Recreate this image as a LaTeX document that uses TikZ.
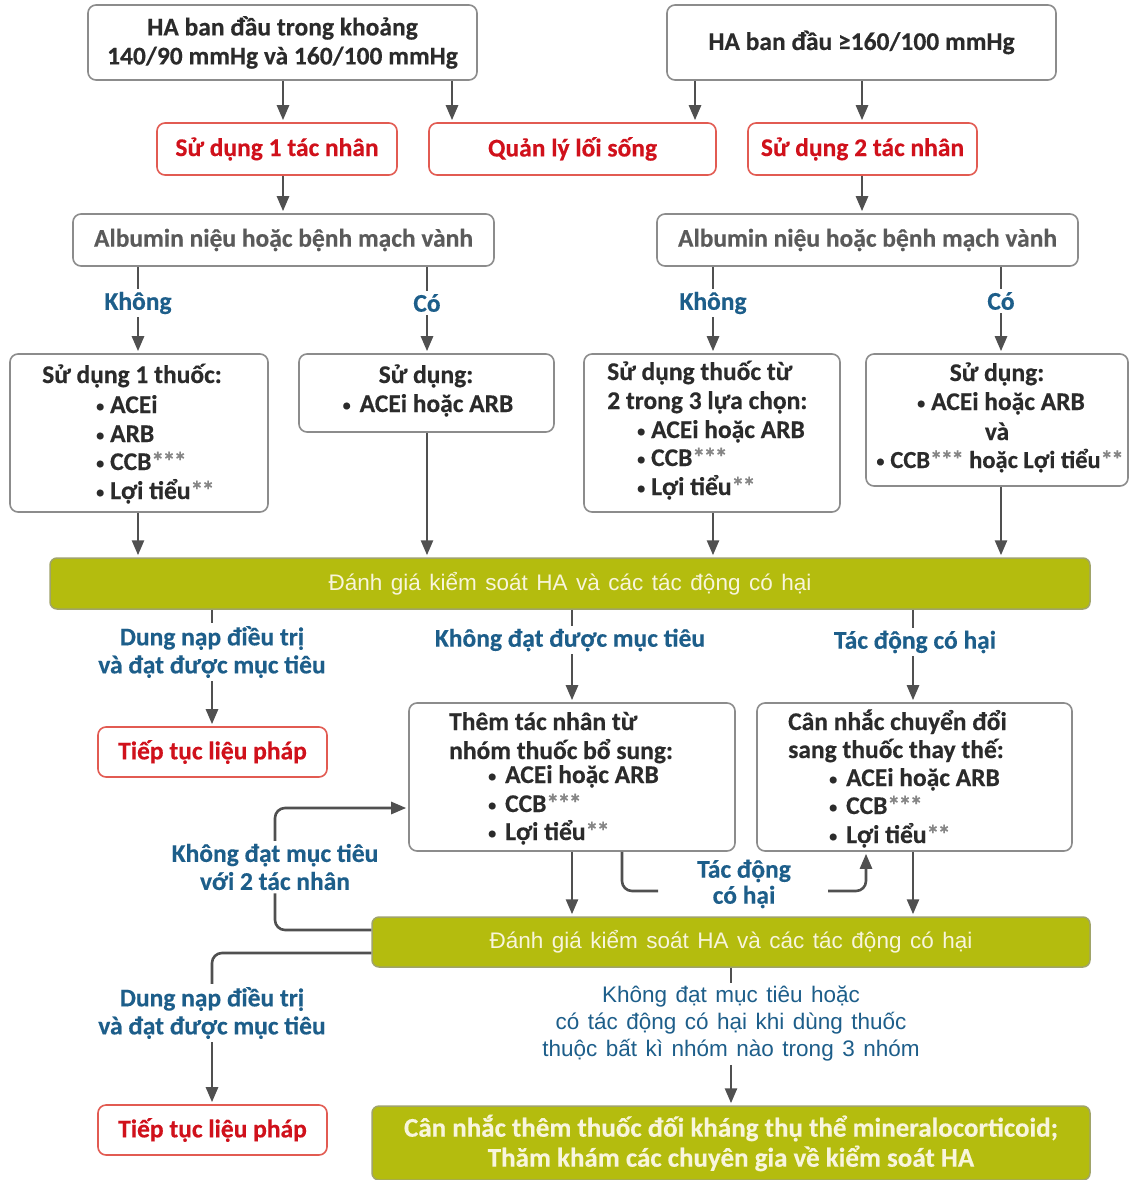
\documentclass[tikz,border=0pt]{standalone}
\usepackage{fontspec}
\setmainfont{Carlito}[BoldFeatures={FakeBold=0.35}]
\newfontfamily\arialf{Liberation Sans}
\usetikzlibrary{arrows.meta}
\definecolor{boxgray}{HTML}{8C8C8C}
\definecolor{txtdark}{HTML}{2B2B2B}
\definecolor{txtgray}{HTML}{5A5A5A}
\definecolor{redtxt}{HTML}{D0111B}
\definecolor{redline}{HTML}{E25B52}
\definecolor{bluetxt}{HTML}{1D5E8A}
\definecolor{barfill}{HTML}{B4BC0E}
\definecolor{barline}{HTML}{A0A46A}
\definecolor{bartxt}{HTML}{F8F5DC}
\definecolor{arrowc}{HTML}{505050}
\definecolor{astc}{HTML}{858585}
\newcommand\sthree{\textcolor{astc}{*\kern-1.5pt*\kern-1.5pt*}}
\newcommand\stwo{\textcolor{astc}{*\kern-1.5pt*}}
\newcommand\bul{\raisebox{1.5pt}{\fontsize{16}{16}\selectfont•}\kern6pt}
\newcommand\bigf{\bfseries\fontsize{25.5}{29}\selectfont}
\newcommand\barf{\arialf\fontsize{22.5}{26}\selectfont\spaceskip=8.5pt\relax}
\newcommand\kdf{\arialf\fontsize{22.5}{27}\selectfont\spaceskip=8.5pt\relax}
\tikzset{
  graybox/.style={draw=boxgray, line width=1.6pt, rounded corners=8pt, fill=white, inner sep=0pt, text=txtdark, font=\bigf, align=center},
  redbox/.style={draw=redline, line width=1.6pt, rounded corners=8pt, fill=white, inner sep=0pt, text=redtxt, font=\bigf, minimum height=52pt},
  bar/.style={fill=barfill, draw=barline, line width=1.5pt, rounded corners=7pt, inner sep=0pt, text=bartxt},
  lab/.style={text=bluetxt, font=\bfseries\fontsize{25.5}{28}\selectfont, align=center, inner sep=3pt},
  ln/.style={anchor=base west, inner sep=0pt, text=txtdark, font=\bigf},
  lnc/.style={anchor=base, inner sep=0pt, text=txtdark, font=\bigf},
  conn/.style={draw=arrowc, line width=2.6pt},
  arr/.style={conn, -{Triangle[length=15pt,width=12pt]}, shorten >=2pt},
}
\begin{document}
\begin{tikzpicture}[x=1pt,y=-1pt]
\useasboundingbox (0,0) rectangle (1130,1180);
\fill[white] (0,0) rectangle (1130,1180);

% top boxes
\node[graybox, minimum width=389pt, minimum height=75pt] (A) at (282.5,42.5) {HA ban đầu trong khoảng\\140/90 mmHg và 160/100 mmHg};
\node[graybox, minimum width=389pt, minimum height=75pt] (B) at (861.5,42.5) {HA ban đầu ≥160/100 mmHg};

\node[redbox, minimum width=240pt] (R1) at (277,149) {Sử dụng 1 tác nhân};
\node[redbox, minimum width=287pt] (R2) at (572.5,149) {Quản lý lối sống};
\node[redbox, minimum width=229pt] (R3) at (862.5,149) {Sử dụng 2 tác nhân};

\node[graybox, minimum width=421pt, minimum height=52pt, text=txtgray] (AlbL) at (283.5,240) {Albumin niệu hoặc bệnh mạch vành};
\node[graybox, minimum width=421pt, minimum height=52pt, text=txtgray] (AlbR) at (867.5,240) {Albumin niệu hoặc bệnh mạch vành};

\node[lab] (kh1) at (138,303) {Không};
\node[lab] (co1) at (427,303) {Có};
\node[lab] (kh2) at (713,303) {Không};
\node[lab] (co2) at (1001,301) {Có};

% second level boxes
\node[graybox, minimum width=258pt, minimum height=158pt] (L1) at (139,433) {};
\node[graybox, minimum width=255pt, minimum height=78pt] (L2) at (426.5,393) {};
\node[graybox, minimum width=256pt, minimum height=158pt] (Rb1) at (712,433) {};
\node[graybox, minimum width=262pt, minimum height=132pt] (Rb2) at (997,420) {};

\node[lnc] (l1h) at (132,383) {Sử dụng 1 thuốc:};
\node[ln] (l1a) at (96,413) {\bul ACEi};
\node[ln] (l1b) at (96,442) {\bul ARB};
\node[ln] (l1c) at (96,470) {\bul CCB\sthree};
\node[ln] (l1d) at (96,499) {\bul Lợi tiểu\stwo};

\node[lnc] (l2h) at (426,383) {Sử dụng:};
\node[lnc] (l2a) at (428,412) {\bul\kern3pt ACEi hoặc ARB};

\node[ln] (r1h) at (607,380) {Sử dụng thuốc từ};
\node[ln] (r1i) at (607,409) {2 trong 3 lựa chọn:};
\node[ln] (r1a) at (637,438) {\bul ACEi hoặc ARB};
\node[ln] (r1b) at (637,466) {\bul CCB\sthree};
\node[ln] (r1c) at (637,495) {\bul Lợi tiểu\stwo};

\node[lnc] (r2h) at (997,381) {Sử dụng:};
\node[lnc] (r2a) at (1001,410) {\bul ACEi hoặc ARB};
\node[lnc] (r2b) at (997,440) {và};
\node[lnc, font=\bfseries\fontsize{24.5}{29}\selectfont] (r2c) at (1000,468) {\bul CCB\sthree{} hoặc Lợi tiểu\stwo};

% bar 1
\node[bar, minimum width=1040pt, minimum height=51pt, font=\barf] (bar1) at (570,583.5) {Đánh giá kiểm soát HA và các tác động có hại};

\node[lab] (dn1) at (212,652) {Dung nạp điều trị\\và đạt được mục tiêu};
\node[redbox, minimum width=229pt, minimum height=50pt] (cont1) at (212.5,752) {Tiếp tục liệu pháp};
\node[lab] (kd1) at (570,640) {Không đạt được mục tiêu};
\node[lab] (td1) at (915,642) {Tác động có hại};

\node[graybox, minimum width=326pt, minimum height=148pt] (M1) at (572,777) {};
\node[graybox, minimum width=315pt, minimum height=148pt] (M2) at (914.5,777) {};

\node[ln] (m1h) at (449,730) {Thêm tác nhân từ};
\node[ln] (m1i) at (449,759) {nhóm thuốc bổ sung:};
\node[ln] (m1a) at (488,783) {\bul\kern3pt ACEi hoặc ARB};
\node[ln] (m1b) at (488,812) {\bul\kern3pt CCB\sthree};
\node[ln] (m1c) at (488,840) {\bul\kern3pt Lợi tiểu\stwo};

\node[ln] (m2h) at (788,730) {Cân nhắc chuyển đổi};
\node[ln] (m2i) at (788,758) {sang thuốc thay thế:};
\node[ln] (m2a) at (829,786) {\bul\kern3pt ACEi hoặc ARB};
\node[ln] (m2b) at (829,814) {\bul\kern3pt CCB\sthree};
\node[ln] (m2c) at (829,843) {\bul\kern3pt Lợi tiểu\stwo};

\node[lab, font=\bfseries\fontsize{25.5}{26}\selectfont] (td2) at (744,884) {Tác động\\có hại};
\node[lab] (nk) at (275,867) {Không đạt mục tiêu\\với 2 tác nhân};

% bar 2
\node[bar, minimum width=718pt, minimum height=50pt, font=\barf] (bar2) at (731,942) {Đánh giá kiểm soát HA và các tác động có hại};

\node[lab] (dn2) at (212,1013) {Dung nạp điều trị\\và đạt được mục tiêu};
\node[redbox, minimum width=229pt, minimum height=50pt] (cont2) at (212.5,1130) {Tiếp tục liệu pháp};
\node[lab, font=\kdf] (kd3) at (731,1024) {Không đạt mục tiêu hoặc\\có tác động có hại khi dùng thuốc\\thuộc bất kì nhóm nào trong 3 nhóm};

\node[bar, minimum width=718pt, minimum height=74pt, font=\bfseries\fontsize{27}{30}\selectfont, align=center] (fin) at (731,1143) {Cân nhắc thêm thuốc đối kháng thụ thể mineralocorticoid;\\Thăm khám các chuyên gia về kiểm soát HA};

\coordinate (tdl) at (658,891);
\coordinate (tdr) at (828,891);

% connectors
\draw[arr] (A.south -| 283,0) -- (R1.north -| 283,0);
\draw[arr] (A.south -| 452,0) -- (R2.north -| 452,0);
\draw[arr] (B.south -| 695,0) -- (R2.north -| 695,0);
\draw[arr] (B.south -| 862,0) -- (R3.north -| 862,0);
\draw[arr] (R1.south -| 283,0) -- (AlbL.north -| 283,0);
\draw[arr] (R3.south -| 862,0) -- (AlbR.north -| 862,0);

\draw[conn] (AlbL.south -| 138,0) -- (kh1.north);
\draw[arr] (kh1.south) -- (L1.north -| 138,0);
\draw[conn] (AlbL.south -| 427,0) -- (co1.north);
\draw[arr] (co1.south) -- (L2.north -| 427,0);
\draw[conn] (AlbR.south -| 713,0) -- (kh2.north);
\draw[arr] (kh2.south) -- (Rb1.north -| 713,0);
\draw[conn] (AlbR.south -| 1001,0) -- (co2.north);
\draw[arr] (co2.south) -- (Rb2.north -| 1001,0);

\draw[arr] (L1.south -| 138,0) -- (bar1.north -| 138,0);
\draw[arr] (L2.south -| 427,0) -- (bar1.north -| 427,0);
\draw[arr] (Rb1.south -| 713,0) -- (bar1.north -| 713,0);
\draw[arr] (Rb2.south -| 1001,0) -- (bar1.north -| 1001,0);

\draw[conn] (bar1.south -| 212,0) -- (dn1.north -| 212,0);
\draw[arr] (dn1.south -| 212,0) -- (cont1.north -| 212,0);
\draw[conn] (bar1.south -| 572,0) -- (kd1.north -| 572,0);
\draw[arr] (kd1.south -| 572,0) -- (M1.north -| 572,0);
\draw[conn] (bar1.south -| 913,0) -- (td1.north -| 913,0);
\draw[arr] (td1.south -| 913,0) -- (M2.north -| 913,0);

\draw[arr] (M1.south -| 572,0) -- (bar2.north -| 572,0);
\draw[arr] (M2.south -| 913,0) -- (bar2.north -| 913,0);

\draw[conn, rounded corners=10pt] (M1.south -| 622,0) |- (tdl);
\draw[arr, rounded corners=10pt] (tdr) -| (M2.south -| 866,0);

\draw[conn, rounded corners=10pt] (bar2.west |- 0,930) -| (nk.south);
\draw[arr, rounded corners=10pt] (nk.north) |- (M1.west |- 0,808);

\draw[conn, rounded corners=10pt] (bar2.west |- 0,953) -| (dn2.north -| 212,0);
\draw[arr] (dn2.south -| 212,0) -- (cont2.north -| 212,0);

\draw[conn] (bar2.south -| 731,0) -- (kd3.north -| 731,0);
\draw[arr] (kd3.south -| 731,0) -- (fin.north -| 731,0);
\end{tikzpicture}
\end{document}
